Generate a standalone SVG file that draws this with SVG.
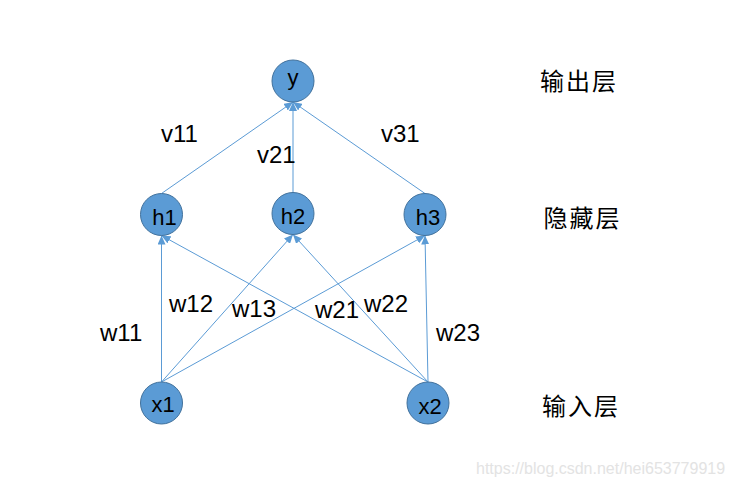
<svg xmlns="http://www.w3.org/2000/svg" width="733" height="488" viewBox="0 0 733 488">
<style>
.node circle{fill:#5B9BD5;stroke:#41719C;stroke-width:1}
.node text{font-family:"Liberation Sans",Arial,sans-serif;font-size:22px;fill:#000;text-anchor:middle}
.edge{stroke:#5B9BD5;stroke-width:1;fill:none;marker-end:url(#arr)}
.lbl{font-family:"Liberation Sans",Arial,sans-serif;font-size:24px;fill:#000}
.layer{font-family:"Noto Sans CJK SC","Noto Sans CJK JP",sans-serif;font-size:24px;fill:#000;letter-spacing:2px}
.wm{font-family:"Liberation Sans",Arial,sans-serif;font-size:16px;fill:#e3e3e3}
</style>
<defs>
<marker id="arr" markerUnits="userSpaceOnUse" markerWidth="10" markerHeight="8" refX="9" refY="4" orient="auto">
<path d="M0,0 L9,4 L0,8 Z" fill="#5B9BD5"/>
</marker>
</defs>
<rect width="733" height="488" fill="#fff"/>
<g id="connectors">
<line class="edge" x1="161.5" y1="193.5" x2="293" y2="102"/>
<line class="edge" x1="293" y1="192.5" x2="293" y2="102"/>
<line class="edge" x1="425" y1="193.5" x2="293" y2="102"/>
<line class="edge" x1="161.5" y1="382" x2="161.5" y2="235.5"/>
<line class="edge" x1="161.5" y1="382" x2="293" y2="234.5"/>
<line class="edge" x1="161.5" y1="382" x2="425" y2="235.5"/>
<line class="edge" x1="428" y1="382" x2="161.5" y2="235.5"/>
<line class="edge" x1="428" y1="382" x2="293" y2="234.5"/>
<line class="edge" x1="428" y1="382" x2="425" y2="235.5"/>
</g>
<g id="y" class="node"><circle cx="293" cy="81" r="21"/><text x="293" y="85">y</text></g>
<g id="h1" class="node"><circle cx="161.5" cy="214.5" r="21"/><text x="164.5" y="224.5">h1</text></g>
<g id="h2" class="node"><circle cx="293" cy="213.5" r="21"/><text x="293" y="223.5">h2</text></g>
<g id="h3" class="node"><circle cx="425" cy="214.5" r="21"/><text x="428" y="224.5">h3</text></g>
<g id="x1" class="node"><circle cx="161.5" cy="403" r="21"/><text x="163" y="412">x1</text></g>
<g id="x2" class="node"><circle cx="428" cy="403" r="21"/><text x="430" y="414">x2</text></g>
<g id="labels">
<text class="lbl" x="161" y="142">v11</text>
<text class="lbl" x="257" y="163">v21</text>
<text class="lbl" x="381" y="142">v31</text>
<text class="lbl" x="100" y="340.5">w11</text>
<text class="lbl" x="169" y="312">w12</text>
<text class="lbl" x="232" y="317">w13</text>
<text class="lbl" x="315" y="318">w21</text>
<text class="lbl" x="364" y="311.5">w22</text>
<text class="lbl" x="436" y="340.5">w23</text>
<text class="layer" x="540" y="90">输出层</text>
<text class="layer" x="543.5" y="227">隐藏层</text>
<text class="layer" x="542" y="415">输入层</text>
</g>
<text class="wm" x="476" y="474">https://blog.csdn.net/hei653779919</text>
</svg>
